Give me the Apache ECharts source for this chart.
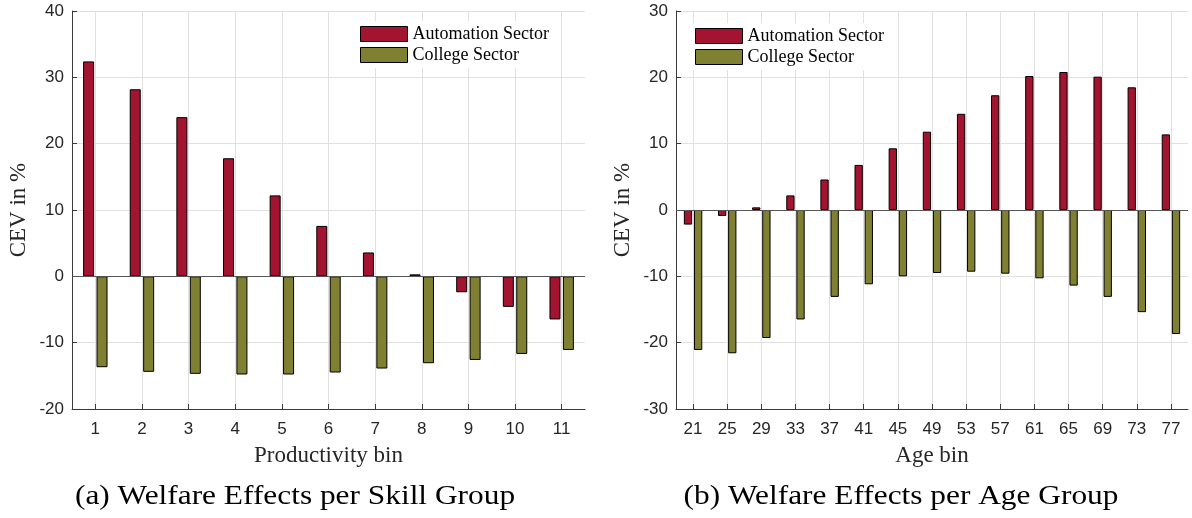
<!DOCTYPE html>
<html>
<head>
<meta charset="utf-8">
<script src="https://cdn.jsdelivr.net/npm/echarts@6/dist/echarts.min.js"></script>
<style>html,body{margin:0;padding:0;background:#fff}#c{width:1192px;height:518px}</style>
</head>
<body>
<div id="c"></div>
<script>
// ---- data ----
const skillBins = ['1','2','3','4','5','6','7','8','9','10','11'];
const skillAutomation = [32.4, 28.2, 24.0, 17.8, 12.2, 7.6, 3.6, 0.3, -2.4, -4.6, -6.5];
const skillCollege = [-13.7, -14.4, -14.7, -14.8, -14.8, -14.5, -13.9, -13.1, -12.6, -11.7, -11.1];

const ageBins = ['21','25','29','33','37','41','45','49','53','57','61','65','69','73','77'];
const ageAutomation = [-2.2, -0.9, 0.4, 2.2, 4.6, 6.8, 9.3, 11.8, 14.5, 17.3, 20.2, 20.8, 20.1, 18.5, 11.4];
const ageCollege = [-21.1, -21.6, -19.3, -16.5, -13.1, -11.2, -10.0, -9.5, -9.3, -9.6, -10.3, -11.4, -13.1, -15.4, -18.7];

const seriesNames = ['Automation Sector', 'College Sector'];
const skillYTicks = {min: -20, max: 40, interval: 10};
const ageYTicks = {min: -30, max: 30, interval: 10};

// ---- styles ----
const RED = '#A2142F', OLIVE = '#808033';
const AX = '#3a3a3a', GRID = '#e0e0e0', TXT = '#262626';
const SERIF = '"Liberation Serif", "DejaVu Serif", serif';
const SANS = '"Liberation Sans", Arial, sans-serif';

function xAxis(gi, data, name) {
  return {
    type: 'category', gridIndex: gi, data: data, boundaryGap: true,
    name: name, nameLocation: 'middle', nameGap: 35,
    nameTextStyle: {fontFamily: SERIF, fontSize: 23, color: TXT, verticalAlign: 'top'},
    axisLine: {show: true, onZero: false, lineStyle: {color: AX, width: 1}},
    axisTick: {show: true, inside: true, length: 5, alignWithLabel: true, lineStyle: {color: AX}},
    axisLabel: {fontFamily: SANS, fontSize: 17, color: TXT, margin: 12, interval: 0},
    splitLine: {show: true, alignWithLabel: true, lineStyle: {color: GRID, width: 1}}
  };
}
function yAxis(gi, t) {
  return {
    type: 'value', gridIndex: gi, min: t.min, max: t.max, interval: t.interval,
    name: 'CEV in %', nameLocation: 'middle', nameGap: 42, nameRotate: 90,
    nameTextStyle: {fontFamily: SERIF, fontSize: 23, color: TXT},
    axisLine: {show: true, lineStyle: {color: AX, width: 1}},
    axisTick: {show: true, inside: true, length: 5, lineStyle: {color: AX}},
    axisLabel: {fontFamily: SANS, fontSize: 17, color: TXT, margin: 8},
    splitLine: {show: true, lineStyle: {color: GRID, width: 1}}
  };
}
function bar(gi, name, data, color, w, withZero) {
  const s = {
    type: 'bar', name: name, xAxisIndex: gi, yAxisIndex: gi, data: data,
    barWidth: w, barGap: '22%',
    itemStyle: {color: color, borderColor: '#000', borderWidth: 1},
    emphasis: {disabled: true}, animation: false
  };
  if (withZero) {
    s.markLine = {silent: true, symbol: 'none', animation: false,
      data: [{yAxis: 0}], label: {show: false},
      lineStyle: {color: '#555', type: 'solid', width: 1}};
  }
  return s;
}
function legend(left, top) {
  return {
    data: seriesNames, orient: 'vertical', left: left, top: top,
    itemWidth: 47, itemHeight: 15, itemGap: 3,
    backgroundColor: '#fff', padding: [4, 10, 4, 2],
    textStyle: {fontFamily: SERIF, fontSize: 18, color: '#000', lineHeight: 15},
    selectedMode: false, icon: 'rect',
    itemStyle: {borderColor: '#000', borderWidth: 1}
  };
}

const chart = echarts.init(document.getElementById('c'), null, {renderer: 'canvas'});
chart.setOption({
  animation: false,
  color: [RED, OLIVE],
  grid: [
    {left: 72, top: 11, width: 513, height: 398},
    {left: 676, top: 11, width: 512, height: 398}
  ],
  xAxis: [xAxis(0, skillBins, 'Productivity bin'), xAxis(1, ageBins, 'Age bin')],
  yAxis: [yAxis(0, skillYTicks), yAxis(1, ageYTicks)],
  legend: [legend(358, 21), legend(693, 23)],
  series: [
    bar(0, seriesNames[0], skillAutomation, RED, 11, true),
    bar(0, seriesNames[1], skillCollege, OLIVE, 11, false),
    bar(1, seriesNames[0], ageAutomation, RED, 8.3, true),
    bar(1, seriesNames[1], ageCollege, OLIVE, 8.3, false)
  ],
  graphic: [
    {type: 'text', x: 295, y: 497, scaleX: 1.12, style: {text: '(a) Welfare Effects per Skill Group', fontFamily: SERIF, fontSize: 28, fill: '#000', align: 'center', verticalAlign: 'middle'}},
    {type: 'text', x: 901, y: 497, scaleX: 1.12, style: {text: '(b) Welfare Effects per Age Group', fontFamily: SERIF, fontSize: 28, fill: '#000', align: 'center', verticalAlign: 'middle'}}
  ]
});
</script>
</body>
</html>
